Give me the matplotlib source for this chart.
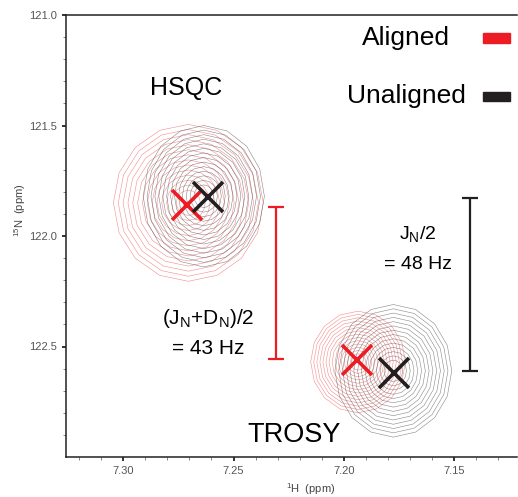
import numpy as np
import matplotlib
matplotlib.use('Agg')
import matplotlib.pyplot as plt
from matplotlib.patches import Rectangle

plt.rcParams['font.family'] = ['Liberation Sans', 'DejaVu Sans']
plt.rcParams['mathtext.fontset'] = 'custom'
plt.rcParams['mathtext.rm'] = 'Liberation Sans'
plt.rcParams['mathtext.it'] = 'Liberation Sans'

red = '#ed1c24'
black = '#231f20'

# peak centres (1H ppm, 15N ppm)
peak_names = ['hsqc_aligned', 'hsqc_unaligned', 'trosy_aligned', 'trosy_unaligned']
peak_h = [7.271, 7.2615, 7.194, 7.177]
peak_n = [121.859, 121.823, 122.56, 122.618]
# outer contour centre and half-widths
cont_h = [7.2705, 7.2635, 7.1935, 7.1775]
cont_n = [121.85, 121.82, 122.57, 122.61]
cont_wh = [0.034, 0.0275, 0.0215, 0.0265]
cont_wn = [0.355, 0.32, 0.23, 0.30]
peak_color = [red, black, red, black]
line_color = ['#f05a5a', '#555555', '#f05a5a', '#555555']

# coupling bars: x position, top, bottom
bar_h = [7.2306, 7.1427]
bar_top = [121.868, 121.827]
bar_bottom = [122.555, 122.609]
bar_color = [red, black]

xticks = [7.30, 7.25, 7.20, 7.15]
yticks = [121.0, 121.5, 122.0, 122.5]
xminor = [7.13, 7.14, 7.16, 7.17, 7.18, 7.19, 7.21, 7.22, 7.23, 7.24,
          7.26, 7.27, 7.28, 7.29, 7.31, 7.32]
yminor = [121.1, 121.2, 121.3, 121.4, 121.6, 121.7, 121.8, 121.9,
          122.1, 122.2, 122.3, 122.4, 122.6, 122.7, 122.8, 122.9]

fig = plt.figure(figsize=(5.18, 4.97), dpi=100)
ax = fig.add_axes([66/518, 40/497, 451/518, 442/497])

# polar sampling around each peak, gives the faceted contour look
theta = np.linspace(0, 2 * np.pi, 17)
rad = np.linspace(0, 1.15, 30)
R, T = np.meshgrid(rad, theta)
levels = np.linspace(0.0, 0.84, 14)
for i in range(len(peak_names)):
    X = cont_h[i] + cont_wh[i] * R * np.cos(T)
    Y = cont_n[i] + cont_wn[i] * R * np.sin(T)
    Z = 1 - R
    ax.contour(X, Y, Z, levels=levels, colors=line_color[i], linewidths=0.4, alpha=0.7)

for i in range(len(peak_names)):
    ax.plot(peak_h[i], peak_n[i], marker='x', color=peak_color[i],
            markersize=22, markeredgewidth=2.6, linestyle='none', zorder=5)

for i in range(len(bar_h)):
    mid = (bar_top[i] + bar_bottom[i]) / 2
    half = (bar_bottom[i] - bar_top[i]) / 2
    ax.errorbar(bar_h[i], mid, yerr=half, color=bar_color[i], elinewidth=1.6,
                capsize=6, capthick=1.6, zorder=5)

ax.text(7.2714, 121.33, 'HSQC', fontsize=18, ha='center', va='center')
ax.text(7.2225, 122.90, 'TROSY', fontsize=19.5, ha='center', va='center')
ax.text(7.2615, 122.374, r'(J$_\mathregular{N}$+D$_\mathregular{N}$)/2', fontsize=15, ha='center', va='center')
ax.text(7.2615, 122.51, '= 43 Hz', fontsize=15, ha='center', va='center')
ax.text(7.1665, 121.99, r'J$_\mathregular{N}$/2', fontsize=14, ha='center', va='center')
ax.text(7.1665, 122.13, '= 48 Hz', fontsize=14, ha='center', va='center')

# legend
ax.text((406 - 66) / 451, 1 - (38 - 15) / 442, 'Aligned', transform=ax.transAxes,
        fontsize=19, ha='center', va='center')
ax.text((406 - 66) / 451, 1 - (96 - 15) / 442, 'Unaligned', transform=ax.transAxes,
        fontsize=19, ha='center', va='center')
ax.add_patch(Rectangle(((483 - 66) / 451, 1 - (43 - 15) / 442), 27 / 451, 10 / 442,
                       transform=ax.transAxes, color=red, clip_on=False))
ax.add_patch(Rectangle(((483 - 66) / 451, 1 - (101 - 15) / 442), 27 / 451, 9 / 442,
                       transform=ax.transAxes, color=black, clip_on=False))

ax.set_xticks(xticks)
ax.set_xticklabels(['%.2f' % v for v in xticks])
ax.set_yticks(yticks)
ax.set_yticklabels(['%.1f' % v for v in yticks])
ax.set_xticks(xminor, minor=True)
ax.set_yticks(yminor, minor=True)
ax.set_xlim(7.326, 7.1214)
ax.set_ylim(123.0, 121.0)
ax.tick_params(which='major', direction='out', length=3, width=1.3, labelsize=8, labelcolor='#555555', color='#222222')
ax.tick_params(which='minor', direction='out', length=2.5, width=0.5, color='#555555')
ax.spines['right'].set_visible(False)
for s in ['left', 'top', 'bottom']:
    ax.spines[s].set_linewidth(1.1)
    ax.spines[s].set_color('#222222')

ax.set_xlabel(r'$^\mathregular{1}$H  (ppm)', fontsize=8, color='#444444')
ax.xaxis.set_label_coords((311 - 66) / 451, -(481 - 457) / 442)
ax.set_ylabel(r'$^\mathregular{15}$N  (ppm)', fontsize=8, color='#444444')
ax.yaxis.set_label_coords(-(66 - 28) / 451, 1 - (210 - 15) / 442)

fig.savefig('out.png', dpi=100)
